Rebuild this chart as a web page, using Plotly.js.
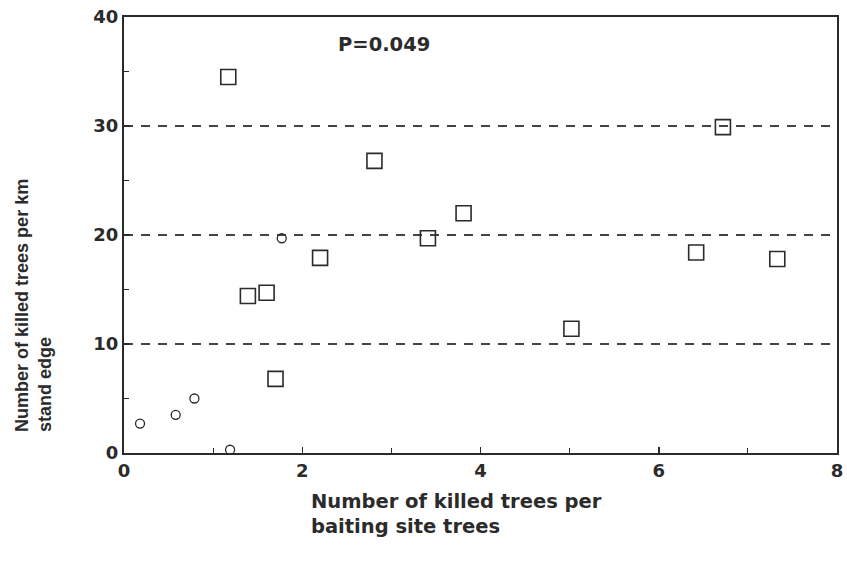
<!DOCTYPE html>
<html>
<head>
<meta charset="utf-8">
<script src="https://cdn.plot.ly/plotly-3.0.1.min.js"></script>
<style>html,body{margin:0;padding:0;background:#fff;}#chart{width:847px;height:563px;}</style>
</head>
<body>
<div id="chart"></div>
<script>
// Square markers
var squareX = [1.17, 2.81, 6.72, 3.81, 3.41, 2.20, 1.39, 1.60, 1.70, 5.02, 6.42, 7.33];
var squareY = [34.5, 26.8, 29.9, 22.0, 19.7, 17.9, 14.4, 14.7, 6.8, 11.4, 18.4, 17.8];
// Circle markers
var circleX = [0.18, 0.58, 0.79, 1.19, 1.77];
var circleY = [2.7, 3.5, 5.0, 0.3, 19.7];

var xTitle = 'Number of killed trees per<br>baiting site trees';
var yTitle = 'Number of killed trees per km<br>stand edge';
var pText = 'P=0.049';

var ink = '#2b2b2b';
var wideFont = 'DejaVu Sans, Liberation Sans, Arial, sans-serif';
var narrowFont = 'Liberation Sans, Arial, sans-serif';

var traces = [
  {x: squareX, y: squareY, type: 'scatter', mode: 'markers',
   marker: {symbol: 'square-open', size: 15, color: ink, line: {width: 1.6, color: ink}},
   hoverinfo: 'x+y', showlegend: false, cliponaxis: false},
  {x: circleX, y: circleY, type: 'scatter', mode: 'markers',
   marker: {symbol: 'circle-open', size: 9, color: ink, line: {width: 1.3, color: ink}},
   hoverinfo: 'x+y', showlegend: false, cliponaxis: false}
];

var layout = {
  width: 847, height: 563,
  margin: {l: 124, r: 10, t: 17, b: 110},
  paper_bgcolor: '#ffffff', plot_bgcolor: '#ffffff',
  font: {family: wideFont, size: 18, color: ink},
  showlegend: false,
  xaxis: {
    range: [0, 8], tickvals: [0, 2, 4, 6, 8], ticktext: ['0', '2', '4', '6', '8'],
    showline: true, linecolor: ink, linewidth: 2, mirror: true,
    ticks: 'inside', ticklen: 6, tickwidth: 1.5, tickcolor: ink,
    minor: {tickvals: [1, 3, 5, 7], ticks: 'inside', ticklen: 5, tickwidth: 1.2, tickcolor: ink, showgrid: false},
    showgrid: false, zeroline: false,
    tickfont: {family: wideFont, size: 18, color: ink, weight: 'bold'}
  },
  yaxis: {
    range: [0, 40], tickvals: [0, 10, 20, 30, 40], ticktext: ['0', '10', '20', '30', '40'],
    showline: true, linecolor: ink, linewidth: 2, mirror: true,
    ticks: 'inside', ticklen: 6, tickwidth: 1.5, tickcolor: ink,
    minor: {tickvals: [5, 15, 25, 35], ticks: 'inside', ticklen: 5, tickwidth: 1.2, tickcolor: ink, showgrid: false},
    showgrid: true, gridcolor: '#444444', gridwidth: 1.5, griddash: '9px,8px',
    zeroline: false,
    tickfont: {family: wideFont, size: 18, color: ink, weight: 'bold'}
  },
  annotations: [
    {text: '<b>' + pText + '</b>', xref: 'paper', yref: 'paper', x: 0.297, y: 0.938,
     xanchor: 'left', yanchor: 'middle', showarrow: false, font: {family: wideFont, size: 19.5, color: ink}},
    {text: '<b>' + xTitle + '</b>', xref: 'paper', yref: 'paper', x: 0.26, y: -0.08,
     xanchor: 'left', yanchor: 'top', align: 'left', showarrow: false,
     font: {family: wideFont, size: 19.5, color: ink}},
    {text: '<b>' + yTitle + '</b>', xref: 'paper', yref: 'paper', x: -0.128, y: 0.339,
     xanchor: 'center', yanchor: 'middle', align: 'left', textangle: -90, showarrow: false,
     font: {family: narrowFont, size: 18, color: ink}}
  ]
};

Plotly.newPlot('chart', traces, layout, {displayModeBar: false, staticPlot: true});
</script>
</body>
</html>
